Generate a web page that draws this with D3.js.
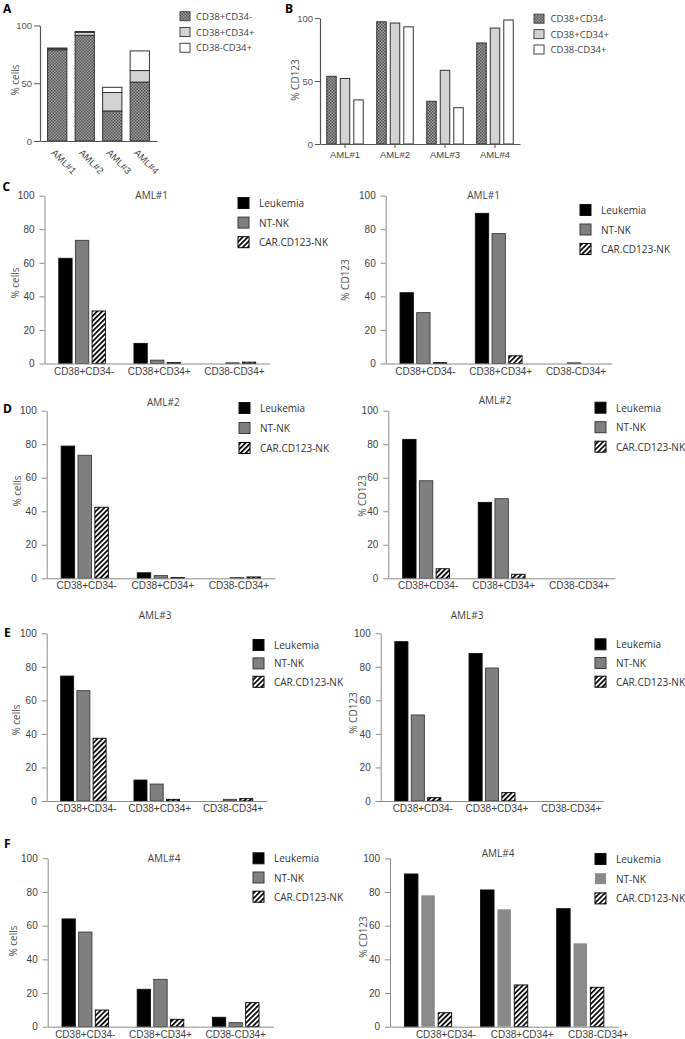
<!DOCTYPE html>
<html>
<head>
<meta charset="utf-8">
<script src="https://cdn.jsdelivr.net/npm/d3@7"></script>
<style>
  body { margin: 0; background: #fff; }
  svg { display: block; font-family: 'Open Sans', sans-serif; }
</style>
</head>
<body>
<div id="chart"></div>
<script>
// categories
const amlIds = ['AML#1', 'AML#2', 'AML#3', 'AML#4']
const subsets = ['CD38+CD34-', 'CD38+CD34+', 'CD38-CD34+']
const conditions = ['Leukemia', 'NT-NK', 'CAR.CD123-NK']

// A: % cells of each subset, per AML (stacked)
const cellsCD38pCD34n = [79, 91.5, 26, 51]
const cellsCD38pCD34p = [1, 2.5, 16, 10]
const cellsCD38nCD34p = [0.5, 0.8, 4.5, 17]

// B: % CD123 in each subset, per AML
const cd123CD38pCD34n = [53.7, 97, 33.9, 80.2]
const cd123CD38pCD34p = [52, 96, 58.5, 92]
const cd123CD38nCD34p = [35, 93, 28.8, 98.4]

// C-F: rows = Leukemia, NT-NK, CAR.CD123-NK ; columns = subsets
const aml1Cells = [[62.7, 12, 0], [73.4, 2, 0.4], [31.3, 0.5, 0.8]]
const aml1CD123 = [[42.2, 89.5, 0], [30.3, 77.4, 0.4], [0.5, 4.6, 0]]
const aml2Cells = [[78.9, 3.3, 0], [73.4, 1.6, 0.4], [42.4, 0.4, 0.8]]
const aml2CD123 = [[82.9, 45.3, 0], [58.2, 47.5, 0], [5.7, 2.4, 0]]
const aml3Cells = [[74.5, 12.5, 0], [65.8, 10.1, 1.0], [37.4, 1.0, 1.4]]
const aml3CD123 = [[95, 88, 0], [51.3, 79.3, 0], [2, 5, 0]]
const aml4Cells = [[64, 22.2, 5.6], [56.2, 28.1, 2.4], [9.9, 4.4, 14.3]]
const aml4CD123 = [[90.7, 81.2, 70.1], [78, 69.7, 49.5], [8.3, 24.8, 23.4]]

const svg = d3.select('#chart')
    .append('svg')
    .attr('width', 685)
    .attr('height', 1039)

// patterns
const defs = svg.append('defs')
const checker = defs.append('pattern')
    .attr('id', 'checker')
    .attr('width', 3).attr('height', 3)
    .attr('patternUnits', 'userSpaceOnUse')
checker.append('rect').attr('width', 3).attr('height', 3).attr('fill', '#a0a0a0')
checker.append('rect').attr('width', 1.5).attr('height', 1.5).attr('fill', '#555')
checker.append('rect').attr('x', 1.5).attr('y', 1.5).attr('width', 1.5).attr('height', 1.5).attr('fill', '#555')

const stripes = defs.append('pattern')
    .attr('id', 'stripes')
    .attr('width', 3.6).attr('height', 3.6)
    .attr('patternUnits', 'userSpaceOnUse')
    .attr('patternTransform', 'rotate(45)')
stripes.append('rect').attr('width', 3.6).attr('height', 3.6).attr('fill', '#fff')
stripes.append('rect').attr('width', 1.7).attr('height', 3.6).attr('fill', '#000')

const subsetFill = ['url(#checker)', '#d3d3d3', '#fff']

function styleAxis(g, color, textColor, size) {
    g.select('.domain').attr('stroke', color)
    g.selectAll('.tick line').attr('stroke', color)
    g.selectAll('.tick text').attr('fill', textColor).style('font-size', size)
}

function panelLetter(t, x, y) {
    svg.append('text').attr('x', x).attr('y', y)
        .text(t).style('font-weight', 'bold').style('font-size', '12px').attr('fill', '#000')
}

function yTitle(t, x, y) {
    svg.append('text')
        .attr('transform', `translate(${x}, ${y}) rotate(-90)`)
        .attr('text-anchor', 'middle')
        .attr('dominant-baseline', 'central')
        .attr('fill', '#505050')
        .style('font-size', '10px')
        .text(t)
}

// ---------- A ----------
function drawA() {
    const rows = amlIds.map((id, i) => ({
        id,
        'CD38+CD34-': cellsCD38pCD34n[i],
        'CD38+CD34+': cellsCD38pCD34p[i],
        'CD38-CD34+': cellsCD38nCD34p[i]
    }))
    const series = d3.stack().keys(subsets)(rows)

    const x = d3.scaleBand().domain(amlIds).range([40, 157]).paddingInner(0.3).paddingOuter(0.275)
    const y = d3.scaleLinear().domain([0, 100]).range([141, 25.5])

    const g = svg.append('g')
    g.selectAll('g.layer')
        .data(series)
        .join('g')
        .attr('class', 'layer')
        .attr('fill', (d, i) => subsetFill[i])
        .selectAll('rect')
        .data(d => d)
        .join('rect')
        .attr('x', d => x(d.data.id))
        .attr('y', d => y(d[1]))
        .attr('width', x.bandwidth())
        .attr('height', d => y(d[0]) - y(d[1]))
        .attr('stroke', '#333')
        .attr('stroke-width', 1)

    const yAx = g.append('g')
        .attr('transform', 'translate(40, 0)')
        .call(d3.axisLeft(y).tickValues([0, 50, 100]).tickSize(6).tickPadding(2).tickSizeOuter(0))
    styleAxis(yAx, '#555', '#555', '9.5px')
    yAx.select('.domain').attr('stroke-width', 1.2)

    const xAx = g.append('g')
        .attr('transform', 'translate(0, 141)')
        .call(d3.axisBottom(x).tickSize(0).tickSizeOuter(0))
    styleAxis(xAx, '#555', '#444', '9.5px')
    xAx.select('.domain').attr('stroke-width', 1.2)
    xAx.selectAll('.tick text')
        .attr('x', 0).attr('y', 0).attr('dy', '0.35em')
        .attr('text-anchor', 'start')
        .attr('transform', 'translate(-4, 10) rotate(45)')

    yTitle('% cells', 15, 80)
    legendBoxes(180, 16.2, 15.8, subsets, subsetFill, 16)
}

function legendBoxes(x, y, step, labels, fills, tx) {
    const lg = svg.append('g')
    labels.forEach((l, i) => {
        lg.append('rect')
            .attr('x', x).attr('y', y + i * step - 4.5)
            .attr('width', 10).attr('height', 9)
            .attr('fill', fills[i]).attr('stroke', '#444')
        lg.append('text')
            .attr('x', x + tx).attr('y', y + i * step)
            .attr('dominant-baseline', 'central')
            .attr('fill', '#444')
            .style('font-size', '9.5px')
            .text(l)
    })
}

// ---------- B ----------
function drawB() {
    const vals = [cd123CD38pCD34n, cd123CD38pCD34p, cd123CD38nCD34p]
    const x = d3.scaleBand().domain(amlIds).range([320, 520])
    const groupW = 36.5
    const xi = d3.scaleBand().domain(subsets).range([0, groupW]).paddingInner(0.3)
    const y = d3.scaleLinear().domain([0, 100]).range([144, 18])

    const g = svg.append('g')
    subsets.forEach((s, si) => {
        g.selectAll(null)
            .data(vals[si])
            .join('rect')
            .attr('x', (d, i) => x(amlIds[i]) + (x.bandwidth() - groupW) / 2 + xi(s))
            .attr('y', d => y(d))
            .attr('width', xi.bandwidth())
            .attr('height', d => y(0) - y(d))
            .attr('fill', subsetFill[si])
            .attr('stroke', '#333')
    })

    const yAx = g.append('g')
        .attr('transform', 'translate(320, 0)')
        .call(d3.axisLeft(y).tickValues([0, 50, 100]).tickSize(5).tickPadding(2).tickSizeOuter(0))
    styleAxis(yAx, '#555', '#555', '9.5px')
    yAx.select('.domain').attr('stroke-width', 1.2)

    const xAx = g.append('g')
        .attr('transform', 'translate(0, 144)')
        .call(d3.axisBottom(x).tickSize(4).tickPadding(3).tickSizeOuter(0))
    styleAxis(xAx, '#555', '#444', '9.5px')
    xAx.select('.domain').attr('stroke-width', 1.2)

    yTitle('% CD123', 295, 80)
    legendBoxes(534, 18.7, 15.4, subsets, subsetFill, 16.5)
}

// ---------- C-F ----------
const panels = [
    { values: aml1Cells, title: 'AML#1', yLab: '% cells', x0: 44.5, x1: 270, yBase: 363.5, yTop: 195.7,
      tx: 151.7, ty: 199, lx: 15, ly: 283, legX: 238, legY: 203, legStep: 19.6, shift: 2 },
    { values: aml1CD123, title: 'AML#1', yLab: '% CD123', x0: 385.7, x1: 611.7, yBase: 363.5, yTop: 195.7,
      tx: 483.5, ty: 199, lx: 345, ly: 280, legX: 580, legY: 210, legStep: 19.5, shift: 2 },
    { values: aml2Cells, title: 'AML#2', yLab: '% cells', x0: 46.7, x1: 275, yBase: 578.3, yTop: 410.7,
      tx: 163.3, ty: 406, lx: 17, ly: 491, legX: 239, legY: 408, legStep: 20, shift: 2 },
    { values: aml2CD123, title: 'AML#2', yLab: '% CD123', x0: 388.3, x1: 615, yBase: 578.3, yTop: 410.7,
      tx: 495, ty: 404, lx: 361.7, ly: 496, legX: 595, legY: 407.7, legStep: 19.5, shift: 2 },
    { values: aml3Cells, title: 'AML#3', yLab: '% cells', x0: 46.7, x1: 266.7, yBase: 801, yTop: 633.3,
      tx: 155, ty: 619, lx: 16, ly: 720, legX: 253, legY: 645, legStep: 18.4, shift: 3 },
    { values: aml3CD123, title: 'AML#3', yLab: '% CD123', x0: 380.7, x1: 603.3, yBase: 801, yTop: 633.3,
      tx: 467, ty: 619, lx: 353, ly: 713, legX: 595, legY: 644.3, legStep: 18.7, shift: 5 },
    { values: aml4Cells, title: 'AML#4', yLab: '% cells', x0: 47.7, x1: 273.3, yBase: 1026.7, yTop: 858.3,
      tx: 164, ty: 862, lx: 12.5, ly: 941, legX: 253, legY: 858.3, legStep: 19.2, shift: 0 },
    { values: aml4CD123, title: 'AML#4', yLab: '% CD123', x0: 390, x1: 618.3, yBase: 1026.7, yTop: 858.3,
      tx: 498, ty: 857, lx: 362.5, ly: 937, legX: 595, legY: 859, legStep: 19.7, shift: 18,
      ntFill: '#8a8a8a', ntStroke: 'none' }
]

function drawGroup(p) {
    const g = svg.append('g')
    const x = d3.scaleBand().domain(subsets).range([p.x0, p.x1])
    const groupW = x.bandwidth() * 0.62
    const xi = d3.scaleBand().domain(conditions).range([0, groupW]).paddingInner(0.2)
    const y = d3.scaleLinear().domain([0, 100]).range([p.yBase, p.yTop])

    const fills = ['#000', p.ntFill || '#7f7f7f', 'url(#stripes)']
    const strokes = ['#111', p.ntStroke || '#3a3a3a', '#000']

    conditions.forEach((c, ci) => {
        g.selectAll(null)
            .data(p.values[ci])
            .join('rect')
            .attr('x', (d, i) => x(subsets[i]) + (x.bandwidth() - groupW) / 2 + xi(c))
            .attr('y', d => y(d))
            .attr('width', xi.bandwidth())
            .attr('height', d => y(0) - y(d))
            .attr('fill', fills[ci])
            .attr('stroke', strokes[ci])
            .attr('stroke-width', 0.9)
    })

    const yAx = g.append('g')
        .attr('transform', `translate(${p.x0}, 0)`)
        .call(d3.axisLeft(y).ticks(5).tickSize(5).tickPadding(5).tickSizeOuter(0))
    styleAxis(yAx, '#8a8a8a', '#404040', '10px')

    const xAx = g.append('g')
        .attr('transform', `translate(0, ${p.yBase})`)
        .call(d3.axisBottom(x).tickSize(0).tickPadding(4).tickSizeOuter(0))
    styleAxis(xAx, '#8a8a8a', '#404040', '10px')
    xAx.selectAll('.tick text').attr('x', p.shift)

    svg.append('text')
        .attr('x', p.tx).attr('y', p.ty)
        .attr('text-anchor', 'middle')
        .attr('fill', '#404040')
        .style('font-size', '10px')
        .text(p.title)

    yTitle(p.yLab, p.lx, p.ly)

    const lg = svg.append('g')
    conditions.forEach((c, i) => {
        lg.append('rect')
            .attr('x', p.legX).attr('y', p.legY + i * p.legStep - 5.5)
            .attr('width', 11).attr('height', 11)
            .attr('fill', fills[i]).attr('stroke', strokes[i])
        lg.append('text')
            .attr('x', p.legX + 21).attr('y', p.legY + i * p.legStep)
            .attr('dominant-baseline', 'central')
            .attr('fill', '#333')
            .style('font-size', '10px')
            .text(c)
    })
}

drawA()
drawB()
panels.forEach(drawGroup)

panelLetter('A', 3, 13)
panelLetter('B', 285, 13)
panelLetter('C', 2.5, 191)
panelLetter('D', 3, 413)
panelLetter('E', 4, 637)
panelLetter('F', 4, 848)
</script>
</body>
</html>
